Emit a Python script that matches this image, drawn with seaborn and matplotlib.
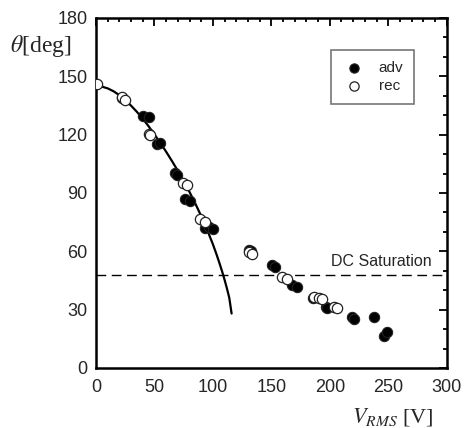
import matplotlib
matplotlib.use("Agg")
import matplotlib.pyplot as plt
from matplotlib.ticker import MultipleLocator
import seaborn as sns
import pandas as pd

# advancing (filled) contact angle data
adv_v = [22, 40.6, 44.9, 52, 54.9, 67.7, 69, 76.3, 80.6, 93.4, 97, 100,
         130.6, 133, 150.6, 153.4, 167.7, 172, 186, 196.4, 197.7, 219.2, 220.6,
         237.7, 246.3, 249.1]
adv_theta = [139, 129.6, 129, 115.2, 115.9, 100.5, 99.5, 86.8, 86, 71.9, 72.5, 71.5,
             60.7, 60, 53, 51.8, 42.7, 41.8, 36, 31.2, 30.7, 26.1, 25,
             26.1, 16.5, 18.7]
# receding (open) contact angle data
rec_v = [0.6, 22, 24.9, 44.9, 46.5, 74.3, 77.7, 89.1, 93.4, 131, 133.4,
         159.2, 163.4, 186.3, 190.6, 193.4, 203.4, 206]
rec_theta = [146, 139.6, 137.8, 120.4, 120, 95, 94.1, 76.5, 75.3, 59.5, 58.6,
             46.6, 45.6, 36.7, 35.8, 35.3, 31.5, 31]
# fitted curve
fit_v = [0, 5, 10, 15, 20, 25, 30, 35, 40, 45, 50, 55, 60, 65, 70, 75, 80, 85,
         90, 95, 100, 103, 106, 108, 110, 112, 114, 116]
fit_theta = [145, 144.7, 143.8, 142.3, 140.3, 137.8, 134.9, 131.7, 128.2, 124.3,
             120.1, 115.8, 111.2, 106.4, 101.4, 96.1, 90.5, 84.5, 78.1, 71.2,
             63.6, 58.6, 53.2, 49.4, 45.3, 40.9, 36.1, 28]
dc_sat = 48
x_ticks = [0, 50, 100, 150, 200, 250, 300]
y_ticks = [0, 30, 60, 90, 120, 150, 180]

sns.set_theme(style="white")
plt.rcParams['font.family'] = ['Liberation Sans', 'DejaVu Sans']
plt.rcParams['mathtext.fontset'] = 'stix'

fig = plt.figure(figsize=(4.65, 4.28), dpi=100)
ax = fig.add_axes([0.2065, 0.1402, 0.7541, 0.8178])

df_fit = pd.DataFrame({"V": fit_v, "theta": fit_theta})
df_adv = pd.DataFrame({"V": adv_v, "theta": adv_theta})
df_rec = pd.DataFrame({"V": rec_v, "theta": rec_theta})

sns.lineplot(data=df_fit, x="V", y="theta", ax=ax, color="black", lw=1.6,
             sort=True, zorder=2)
ax.axhline(dc_sat, color="black", lw=1.0, dashes=(7, 4), zorder=1)
sns.scatterplot(data=df_adv, x="V", y="theta", ax=ax, color="black",
                edgecolor="#222222", linewidth=0.8, s=55, label="adv", zorder=3)
sns.scatterplot(data=df_rec, x="V", y="theta", ax=ax, color="white",
                edgecolor="#222222", linewidth=0.9, s=55, label="rec", zorder=4)

ax.text(0.958, (dc_sat + 3) / 180, "DC Saturation", transform=ax.transAxes,
        ha="right", va="bottom", fontsize=11.5)

ax.set_xlim(0, 300)
ax.set_ylim(0, 180)
ax.set_xticks(x_ticks)
ax.set_yticks(y_ticks)
ax.xaxis.set_minor_locator(MultipleLocator(10))
ax.yaxis.set_minor_locator(MultipleLocator(10))
ax.tick_params(which="both", direction="in", top=True, right=True,
               labelsize=13, width=1.3, color="black")
ax.tick_params(which="major", length=6, pad=6)
ax.tick_params(axis="x", which="major", pad=8)
ax.tick_params(which="minor", length=3)
for sp in ax.spines.values():
    sp.set_linewidth(1.8)
    sp.set_color("black")
ax.set_xlabel("")
ax.set_ylabel("")

fig.text(0.022, 0.892, r"$\theta$[deg]", fontsize=17, family="Liberation Serif",
         ha="left", va="center")
fig.text(0.757, 0.012, r"$V_{RMS}$ [V]", fontsize=16, family="Liberation Serif",
         ha="left", va="baseline")

leg = ax.legend(loc="upper right", bbox_to_anchor=(0.907, 0.909),
                borderaxespad=0, fontsize=11, frameon=True, fancybox=False,
                handletextpad=0.8, borderpad=0.7, labelspacing=0.3,
                handlelength=1.6, markerscale=0.9)
leg.get_frame().set_edgecolor("#555555")
leg.get_frame().set_linewidth(1.2)

fig.savefig("out.png", dpi=100)
